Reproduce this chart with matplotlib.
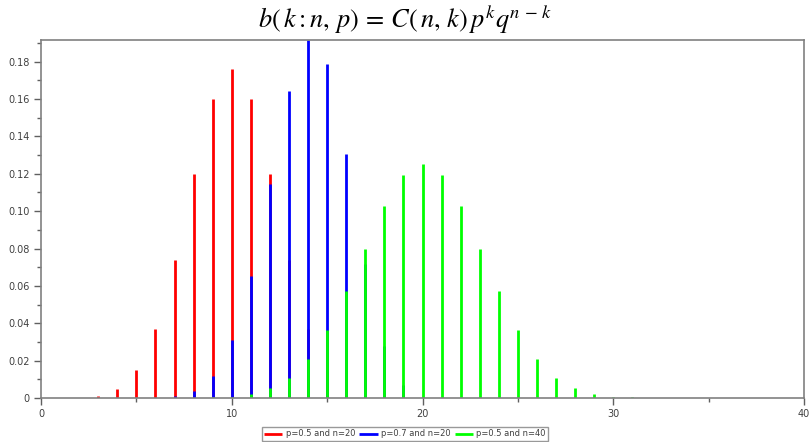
import matplotlib
matplotlib.use("Agg")
import matplotlib.pyplot as plt
from matplotlib.ticker import MultipleLocator, FuncFormatter

# k values and probabilities
k_n20 = list(range(0, 21))
red_p05_n20 = [0.000001, 0.00002, 0.00018, 0.0011, 0.0046, 0.0148, 0.0370, 0.0739,
               0.1201, 0.1602, 0.1762, 0.1602, 0.1201, 0.0739, 0.0370, 0.0148,
               0.0046, 0.0011, 0.00018, 0.00002, 0.000001]
blue_p07_n20 = [0.0, 0.0, 0.0, 0.0, 0.000005, 0.00004, 0.0002, 0.0010,
                0.0039, 0.0120, 0.0308, 0.0654, 0.1144, 0.1643, 0.1916, 0.1789,
                0.1304, 0.0716, 0.0278, 0.0068, 0.0008]
k_n40 = list(range(0, 41))
green_p05_n40 = [0.0, 0.0, 0.0, 0.0, 0.0, 0.0, 0.000003, 0.000017,
                 0.00008, 0.00027, 0.0008, 0.0021, 0.0051, 0.0109, 0.0211, 0.0365,
                 0.0570, 0.0800, 0.1026, 0.1194, 0.1254, 0.1194, 0.1026, 0.0800,
                 0.0570, 0.0365, 0.0211, 0.0109, 0.0051, 0.0021, 0.0008, 0.00027,
                 0.00008, 0.000017, 0.000003, 0.0, 0.0, 0.0, 0.0, 0.0, 0.0]

labels = ["p=0.5 and n=20", "p=0.7 and n=20", "p=0.5 and n=40"]
colors = ["#ff0000", "#0000ff", "#00ff00"]

plt.rcParams["mathtext.fontset"] = "stix"

fig = plt.figure(figsize=(8.1, 4.42), dpi=100)
ax = fig.add_axes([41 / 810, 1 - 398 / 442, (804 - 41) / 810, (398 - 40) / 442])

series = [(k_n20, red_p05_n20), (k_n20, blue_p07_n20), (k_n40, green_p05_n40)]
for (ks, vals), c, lab in zip(series, colors, labels):
    ax.vlines(ks, 0, vals, colors=c, linewidth=2.0, label=lab)

ax.set_xlim(0, 40)
ax.set_ylim(0, max(blue_p07_n20))

ax.xaxis.set_major_locator(MultipleLocator(10))
ax.xaxis.set_minor_locator(MultipleLocator(5))
ax.yaxis.set_major_locator(MultipleLocator(0.02))
ax.yaxis.set_minor_locator(MultipleLocator(0.01))
ax.yaxis.set_major_formatter(FuncFormatter(lambda v, p: "0" if abs(v) < 1e-9 else f"{v:.2f}"))
ax.xaxis.set_major_formatter(FuncFormatter(lambda v, p: f"{int(round(v))}"))

for s in ax.spines.values():
    s.set_color("#808080")
    s.set_linewidth(1.2)
ax.tick_params(which="major", length=5, width=1, color="#606060", labelsize=7,
               labelcolor="#404040", direction="out", pad=3)
ax.tick_params(which="minor", length=3, width=1, color="#606060", direction="out")
ax.get_xticklabels()

fig.text(0.5, 1 - 20 / 442, r"$b(\,k: n,\, p) \,=\, C(\,n,\, k)\,p^{k}q^{n\,-\,k}$",
         ha="center", va="center", fontsize=19)

leg = fig.legend(loc="upper center", bbox_to_anchor=(0.5, 1 - 427 / 442), ncol=3,
                 fontsize=6, frameon=True, fancybox=False, handlelength=2.2,
                 handletextpad=0.4, columnspacing=0.5, borderpad=0.3,
                 borderaxespad=0)
leg.get_frame().set_edgecolor("#808080")
leg.get_frame().set_linewidth(1.0)
for t in leg.get_texts():
    t.set_color("#404040")

fig.savefig("out.png", dpi=100)
